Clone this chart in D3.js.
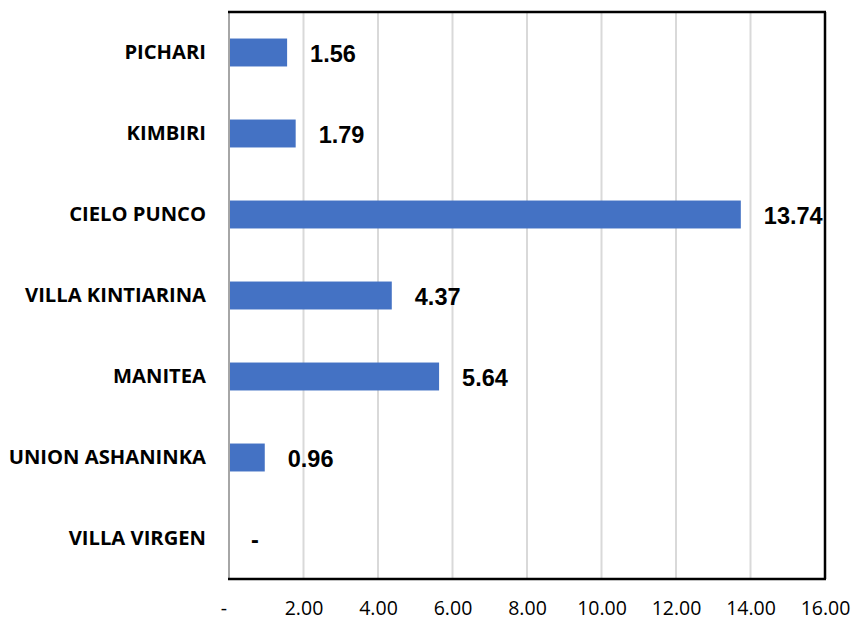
<!DOCTYPE html>
<html>
<head>
<meta charset="utf-8">
<script src="https://cdn.jsdelivr.net/npm/d3@7"></script>
<style>
  body { margin: 0; background: #fff; }
</style>
</head>
<body>
<svg id="chart" width="854" height="620"></svg>
<script>
const categories = ["PICHARI", "KIMBIRI", "CIELO PUNCO", "VILLA KINTIARINA", "MANITEA", "UNION ASHANINKA", "VILLA VIRGEN"]
const values = [1.56, 1.79, 13.74, 4.37, 5.64, 0.96, 0]
const ticks = [0, 2, 4, 6, 8, 10, 12, 14, 16]

const svg = d3.select("#chart")
const mLeft = 229, mRight = 825, mTop = 12, mBottom = 579

const x = d3.scaleLinear().domain([0, 16]).range([mLeft, mRight])
const y = d3.scaleBand().domain(categories).range([mTop, mBottom]).paddingInner(0.655).paddingOuter(0.3275)

const fmt = v => v === 0 ? "-" : d3.format(".2f")(v)

// gridlines
svg.append("g").selectAll("line")
  .data(ticks.slice(1, -1))
  .join("line")
  .attr("x1", d => x(d)).attr("x2", d => x(d))
  .attr("y1", mTop).attr("y2", mBottom)
  .attr("stroke", "#d9d9d9")
  .attr("stroke-width", 2)

// bars
svg.append("g").selectAll("rect")
  .data(values)
  .join("rect")
  .attr("x", x(0))
  .attr("y", (d, i) => y(categories[i]))
  .attr("width", d => x(d) - x(0))
  .attr("height", y.bandwidth())
  .attr("fill", "#4472c4")

// value labels
svg.append("g").selectAll("text")
  .data(values)
  .join("text")
  .attr("x", d => x(d) + (d === 0 ? 22 : 23))
  .attr("y", (d, i) => y(categories[i]) + y.bandwidth() / 2 + 9.5)
  .attr("font-family", "Liberation Sans, Arial, sans-serif")
  .attr("font-weight", "bold")
  .attr("font-size", 23.5)
  .attr("fill", "#000")
  .text(fmt)

// frame
svg.append("line").attr("x1", mLeft).attr("x2", mLeft).attr("y1", mTop).attr("y2", mBottom)
  .attr("stroke", "#a6a6a6").attr("stroke-width", 2)
svg.append("line").attr("x1", mLeft - 1).attr("x2", mRight + 1).attr("y1", mTop).attr("y2", mTop)
  .attr("stroke", "#000").attr("stroke-width", 2.5)
svg.append("line").attr("x1", mRight).attr("x2", mRight).attr("y1", mTop).attr("y2", mBottom)
  .attr("stroke", "#000").attr("stroke-width", 2.5)
svg.append("line").attr("x1", mLeft - 1).attr("x2", mRight + 1).attr("y1", mBottom).attr("y2", mBottom)
  .attr("stroke", "#000").attr("stroke-width", 2.5)

// category axis
const yAxis = svg.append("g")
  .attr("transform", `translate(${mLeft - 23},0)`)
  .call(d3.axisLeft(y).tickSize(0).tickPadding(0))
yAxis.select(".domain").remove()
yAxis.selectAll("text")
  .attr("font-family", "'Open Sans', sans-serif")
  .attr("font-weight", "bold")
  .attr("font-size", 20.2)
  .attr("fill", "#000")

// value axis
const xAxis = svg.append("g")
  .attr("transform", `translate(0,${mBottom})`)
  .call(d3.axisBottom(x).tickValues(ticks).tickSize(0).tickPadding(22).tickFormat(fmt))
xAxis.select(".domain").remove()
xAxis.selectAll("text")
  .attr("font-family", "'Open Sans', sans-serif")
  .attr("font-size", 19.5)
  .attr("fill", "#000")
xAxis.selectAll(".tick").filter(d => d === 0).select("text").attr("dx", -5.5)
</script>
</body>
</html>
